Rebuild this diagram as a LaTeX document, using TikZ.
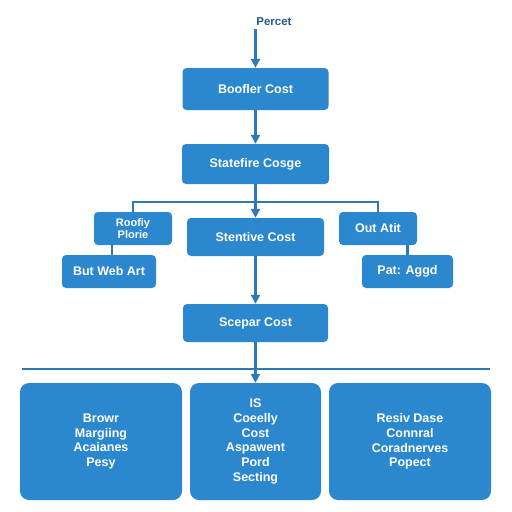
\documentclass[tikz,border=0pt]{standalone}
\usepackage{fontspec}
\setmainfont{Liberation Sans}
\usetikzlibrary{arrows.meta,calc}
\definecolor{boxblue}{RGB}{43,136,206}
\definecolor{lineblue}{RGB}{46,122,184}
\definecolor{topblue}{RGB}{40,92,140}
\begin{document}
\begin{tikzpicture}[x=1pt,y=-1pt,
  box/.style={draw=none,fill=boxblue,rounded corners=4pt,text=white,font=\bfseries\fontsize{12.5}{14}\selectfont,align=center,inner sep=0pt},
  bigbox/.style={box,rounded corners=9pt,font=\bfseries\fontsize{12.5}{14.7}\selectfont},
  conn/.style={draw=lineblue,line width=2.2pt},
  arr/.style={conn,-{Triangle[width=9pt,length=9pt]}}]
\fill[white] (0,0) rectangle (512,512);
\useasboundingbox (0,0) rectangle (512,512);
\node[text=topblue,font=\bfseries\fontsize{11.5}{12}\selectfont] (pt) at (274,22) {Percet};
\coordinate (top) at (255.5,29);
\node[box,minimum width=146pt,minimum height=42pt] (b1) at (255.5,89) {Boofler Cost};
\node[box,minimum width=147pt,minimum height=40pt] (b2) at (255.5,164) {Statefire Cosge};
\node[box,minimum width=137pt,minimum height=38pt] (st) at (255.5,237) {Stentive Cost};
\node[box,minimum width=78pt,minimum height=33pt,font=\bfseries\fontsize{11}{11.5}\selectfont] (lb) at (133,228.5) {Roofiy\\Plorie};
\node[box,minimum width=94pt,minimum height=33pt] (bw) at (109,271.5) {But Web Art};
\node[box,minimum width=78pt,minimum height=33pt] (rb) at (378,228.5) {Out Atit};
\node[box,minimum width=91pt,minimum height=33pt] (pa) at (407.5,271.5) {Pat: Aggd};
\node[box,minimum width=145pt,minimum height=38pt] (sc) at (255.5,323) {Scepar Cost};
\node[bigbox,minimum width=162pt,minimum height=117pt] (lbot) at (101,441.5) {Browr\\Margiing\\Acaianes\\Pesy};
\node[bigbox,minimum width=131pt,minimum height=117pt] (mbot) at (255.5,441.5) {IS\\Coeelly\\Cost\\Aspawent\\Pord\\Secting};
\node[bigbox,minimum width=162pt,minimum height=117pt] (rbot) at (410,441.5) {Resiv Dase\\Connral\\Coradnerves\\Popect};
\coordinate (hl) at (22,369);
\coordinate (hr) at (490,369);
\draw[arr] (top) -- (b1.north);
\draw[arr] (b1.south) -- (b2.north);
\draw[conn] (lb.north) -- ++(0,-9.5) -| (rb.north);
\draw[arr] (b2.south) -- (st.north);
\draw[conn] ([xshift=-21pt]lb.south) -- ([xshift=-21pt]lb.south |- bw.north);
\draw[conn] (pa.north |- rb.south) -- (pa.north);
\draw[arr] (st.south) -- (sc.north);
\draw[conn] (hl) -- (hr);
\draw[arr] (sc.south) -- (mbot.north);
\end{tikzpicture}
\end{document}
